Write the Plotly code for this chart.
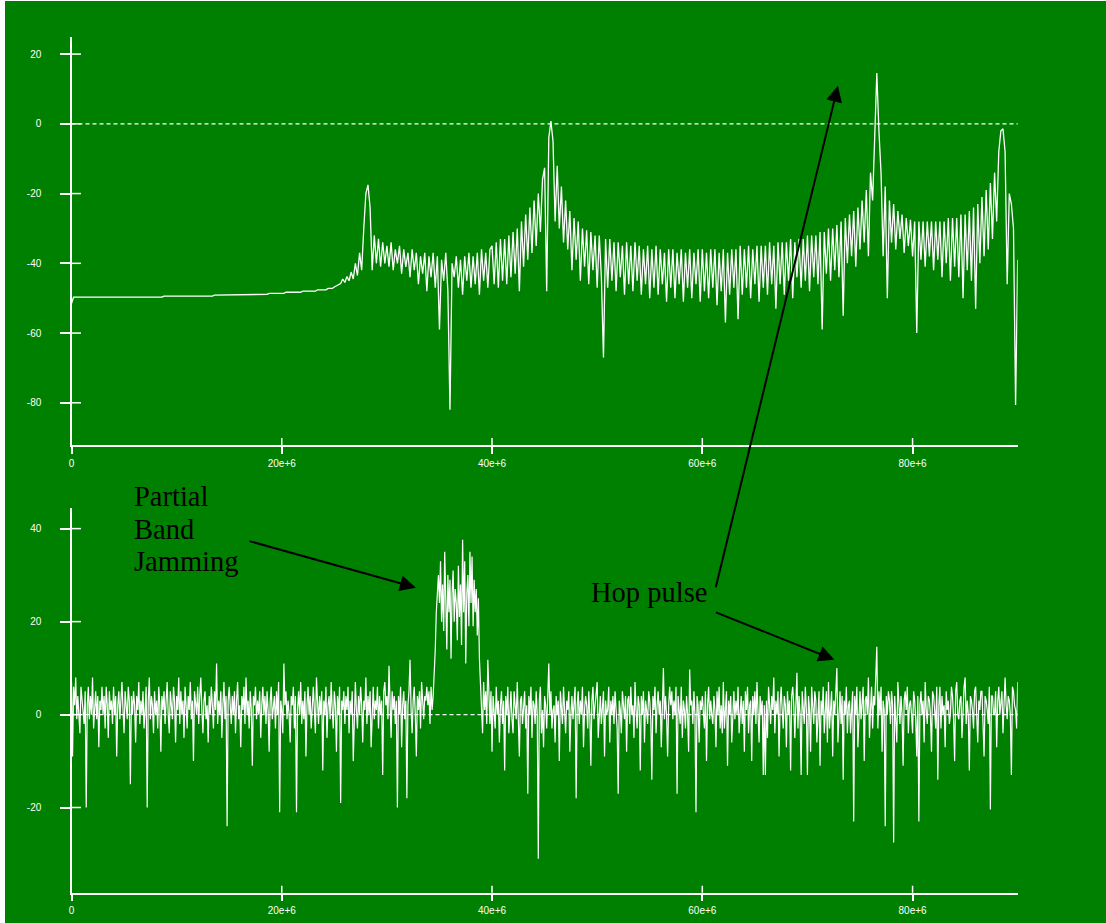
import plotly.graph_objects as go

# ---------------- data ----------------
TOP_STEP_HZ = 0.2e6     # spacing between samples, upper spectrum
BOTTOM_STEP_HZ = 0.1e6  # spacing between samples, lower spectrum

# upper panel: spectrum of the hopping signal (dB)
top_db = [
    -51.5, -49.7, -49.7, -49.7, -49.7, -49.7, -49.7, -49.7, -49.7, -49.7,
    -49.7, -49.7, -49.7, -49.7, -49.7, -49.7, -49.7, -49.7, -49.7, -49.7,
    -49.7, -49.7, -49.7, -49.7, -49.7, -49.7, -49.7, -49.7, -49.7, -49.7,
    -49.7, -49.7, -49.7, -49.7, -49.7, -49.7, -49.7, -49.7, -49.7, -49.7,
    -49.7, -49.7, -49.7, -49.7, -49.4, -49.4, -49.4, -49.4, -49.4, -49.4,
    -49.4, -49.4, -49.4, -49.4, -49.4, -49.4, -49.4, -49.4, -49.4, -49.4,
    -49.4, -49.4, -49.4, -49.4, -49.4, -49.4, -49.4, -49.4, -49.1, -49.1,
    -49.1, -49.1, -49.1, -49.1, -49.1, -49.1, -49.1, -49.1, -49.1, -49.1,
    -49.1, -49.1, -49.1, -48.9, -48.9, -48.9, -48.9, -48.9, -48.9, -48.9,
    -48.9, -48.9, -48.9, -48.9, -48.6, -48.6, -48.6, -48.6, -48.6, -48.6,
    -48.6, -48.6, -48.3, -48.3, -48.3, -48.3, -48.3, -48.3, -48.3, -48.3,
    -48.0, -48.0, -48.0, -48.0, -48.0, -48.0, -48.0, -47.6, -47.6, -47.6,
    -47.6, -47.6, -47.2, -47.2, -47.2, -46.8, -46.5, -46.0, -45.8, -44.5,
    -45.5, -43.8, -45.0, -42.5, -44.5, -40.0, -43.5, -37.0, -42.0, -30.0,
    -20.0, -17.5, -24.0, -42.0, -32.0, -40.0, -33.0, -41.0, -34.0, -40.0,
    -35, -41, -34, -42, -36, -40, -35, -43, -36, -41,
    -37, -44, -36, -42, -37, -46, -38, -43, -37, -48,
    -38, -44, -37, -47, -38, -59, -39, -45, -37, -48,
    -82, -40, -44, -38, -47, -39, -49, -38, -45, -37,
    -47, -38, -46, -37, -49, -36, -45, -37, -47, -36,
    -35, -46, -34, -47, -33, -45, -33, -46, -32, -44,
    -31, -43, -30, -48, -28, -41, -26, -39, -24, -37,
    -22, -35, -20, -31, -16, -12.6, -48, -4, 0.8, -5,
    -28, -12, -30, -18, -34, -22, -36, -25, -42, -27,
    -39, -28, -45, -30, -41, -30.5, -46, -31, -42, -32,
    -47, -32, -44, -67, -33, -47, -33, -45, -34, -48,
    -34, -44, -35, -49, -34, -46, -35, -48, -34, -45,
    -35, -49, -36, -46, -35, -50, -36, -47, -35, -49,
    -36, -46, -37, -51, -36, -47, -36, -50, -37, -46,
    -36, -51, -37, -47, -36, -50, -37, -46, -36, -51,
    -36, -48, -37, -50, -36, -47, -36, -52, -37, -48,
    -36, -57, -37, -49, -36, -47, -36, -56, -35, -49,
    -36, -47, -35, -50, -36, -46, -35, -51, -35, -47,
    -35, -49, -34, -46, -35, -53, -34, -46, -34, -49,
    -34, -45, -33, -50, -34, -44, -33, -47, -33, -45,
    -32, -48, -32, -44, -32, -46, -31, -59, -31, -43,
    -30, -45, -30, -42, -29, -44, -28, -55, -27, -40,
    -26, -38, -25, -41, -24, -36, -22, -34, -19, -38,
    -14, -22, -5, 14.6, -2, -14, -38, -18, -50, -22,
    -34, -23, -36, -25, -33, -26, -37, -27, -35, -27.5,
    -38, -28, -60, -28, -39, -28, -41, -28, -38, -28,
    -42, -28, -39, -28, -44, -28, -40, -27, -45, -27,
    -41, -27, -44, -26, -50, -26, -42, -25, -45, -24,
    -53, -23, -40, -21, -38, -19, -36, -17, -33, -14,
    -28, -8, -2, -1.4, -8, -46, -20, -23, -30, -80.6,
    -39,
]

# lower panel: received spectrum with partial band jamming (dB), one row per 1 MHz
bottom_db = [
    7, -9, 6, 2, 8, -1, 4, 0, -4, 6,
    3, 1, -2, 5, -20, 2, 6, -1, 4, 0,
    8, -3, 2, 5, -1, 4, -7, 3, 1, 6,
    0, 4, -3, 6, 2, -5, 5, 1, 3, -2,
    6, 0, 4, -9, 2, 5, -1, 3, 7, 1,
    -4, 5, 2, -1, 6, 3, -15, 4, 0, 5,
    2, -6, 4, 1, 7, -2, 3, 0, 5, -3,
    1, 6, -20, 3, 8, -1, 4, 2, -4, 5,
    0, 3, -3, 6, 2, -8, 4, 1, 5, -2,
    3, 7, 0, -4, 5, 2, -1, 6, 3, -6,
    4, 1, 8, -2, 5, 0, 3, -5, 6, 2,
    -3, 4, 1, 7, -1, 3, -10, 5, 2, 0,
    6, -2, 4, 8, 1, -4, 3, 5, -1, 2,
    -6, 4, 0, 6, 2, -3, 5, 1, 11, -2,
    3, 0, 5, -5, 2, 7, -1, 4, -24, 3,
    6, 1, -2, 4, 0, 5, -4, 3, 7, -1,
    2, -7, 4, 1, 6, -2, 8, 0, 3, -3,
    5, 1, -11, 4, 2, 6, -1, 3, 0, 5,
    -5, 2, 6, 0, 4, -2, 5, 1, -8, 3,
    6, -1, 2, 4, -3, 5, 0, 7, -21, 3,
    1, -4, 11, 2, 5, -1, 3, 0, -6, 4,
    2, 6, -3, 4, -21, 1, 5, 0, 7, -2,
    3, -1, 5, -9, 2, 6, 0, 4, -3, 2,
    6, 1, -4, 8, 2, -2, 4, 0, 5, -12,
    3, 0, 6, -5, 2, 4, -1, 7, 1, -3,
    5, 2, -8, 4, 0, 6, -19, 3, 1, 5,
    -2, 4, 1, 6, -4, 3, 0, 5, -10, 2,
    7, 1, -3, 4, 0, 6, 2, -6, 3, 1,
    8, -2, 4, 0, 5, -7, 2, 6, -1, 3,
    1, 6, -3, 4, 0, 3, -13, 5, 7, 2,
    4, -1, 10.5, 2, -5, 5, 1, 4, -2, 3,
    -20, 4, 0, 6, -7, 2, 5, -1, 3, -18,
    2, 5, 11.8, 1, -4, 3, 6, 0, -9, 4,
    1, 5, -3, 7, 2, -1, 4, 3, 6, 2,
    5, -2, 6, 1, 4, 8, 14, 22, 26, 30,
    24, 33, 20, 28, 18, 35, 25, 14, 30, 22,
    29, 12, 26, 31, 20, 27, 24, 16, 32, 21,
    28, 15, 37.6, 22, 33, 11, 26, 30, 19, 35,
    24, 34, 19, 29, 22, 27, 17, 25, 12, 6,
    3, -4, 7, 1, 5, -2, 11.8, 3, -2, 5,
    -8, 4, 1, -3, 6, 0, 3, -6, 2, 5,
    -2, 3, -12, 4, 0, 6, -4, 1, 5, -1,
    -4, 5, 2, -1, 7, 0, -9, 3, 4, -2,
    1, 5, -3, 2, -17, 4, 0, 6, -5, 3,
    2, -2, 5, 0, -31, 3, 6, -4, 1, -7,
    4, 2, -3, 6, 11, 0, 5, -3, 1, 2,
    -6, 4, 0, 3, -10, 5, 1, -2, 6, 2,
    -4, 3, 1, 5, -8, 0, 4, -1, 3, 6,
    -18, 2, 5, -2, 3, 0, 6, -7, 1, 4,
    2, -3, 5, 0, -11, 3, 6, -1, 2, 4,
    7, -5, 2, 4, -2, 1, 5, -9, 3, 0,
    1, 6, -6, 3, 0, 4, -2, 5, 1, -3,
    -17, 3, 1, -4, 5, 2, -1, 4, -8, 3,
    4, -2, 6, 0, 2, -5, 7, 1, -3, 4,
    2, -12, 4, 0, 5, -6, 3, 1, -2, 5,
    3, -1, -14, 4, 1, 6, -4, 2, 5, 0,
    3, -7, 5, 10, -1, 4, 0, -9, 2, 6,
    2, 5, -1, 3, 0, 6, -17, 4, 1, -2,
    6, -5, 3, 1, -3, 4, 0, -8, 9.7, 2,
    3, -2, 5, 0, -21, 4, 2, -6, 3, 1,
    4, 0, -3, 5, -10, 2, 6, -1, 3, 0,
    -2, 4, 1, -7, 5, 0, 6, -3, 2, -4,
    7, -3, 1, 5, -11, 3, 0, 4, -6, 2,
    5, -1, 3, 0, 6, -4, 2, 4, -2, 3,
    -8, 5, 1, 6, -4, 2, 3, -10, 4, 0,
    5, -2, 7, 1, -6, 4, 0, 3, -13, 2,
    -13, 3, -5, 6, 0, -2, 4, 1, 8, -4,
    3, 0, 5, -9, 2, 6, 1, -3, 4, 2,
    -7, 5, 0, 3, -12, 4, 6, 2, -5, 1,
    9, -3, 4, 0, -13, 5, 2, -2, 6, 1,
    -13, 4, 1, -8, 6, 0, -2, 5, 3, -6,
    2, 5, -11, 3, 0, 6, -4, 2, 5, -6,
    7, -3, 2, 5, -9, 3, 0, 4, 10, -6,
    1, 5, -2, 4, -14, 3, 0, 6, -4, 2,
    3, -4, 1, 5, -23, 4, 0, 6, -7, 2,
    5, -1, 2, 6, -10, 3, 4, 0, 8, -5,
    1, 6, -3, 4, 2, 7, 14.6, -3, 5, 0,
    6, -8, 3, 1, -24, 4, 0, 5, 3, -2,
    5, 2, -27.5, 4, 0, -6, 7, 1, -2, 4,
    0, -11, 3, 5, 1, 6, -4, 2, 3, 0,
    -4, 5, 3, -1, -9, 4, -23, 2, 5, 0,
    3, -6, 7, 1, -2, 4, 3, 0, -8, 5,
    4, 1, -3, 6, -14, 2, 6, -3, 4, 0,
    2, -7, 5, 1, 3, -2, 0, 6, 4, -1,
    -10, 5, 7, 0, -1, 3, 4, -5, 2, 6,
    8, -2, 3, 0, -12, 4, 3, 1, -3, 5,
    6, 0, -6, 3, 1, 5, 5, -2, -9, 4,
    3, 1, -2, 6, -20.4, 4, 4, 0, 0, 5,
    -7, 3, 6, 0, 2, 5, -4, 1, 8, 2,
    -1, 4, 3, 0, -13, 6, 5, 2, 1, -3,
    7,
]

top_freq = [i * TOP_STEP_HZ for i in range(len(top_db))]
bottom_freq = [i * BOTTOM_STEP_HZ for i in range(len(bottom_db))]

x_tickvals = [0, 20e6, 40e6, 60e6, 80e6]
x_ticktext = ["0", "20e+6", "40e+6", "60e+6", "80e+6"]
top_y_ticks = [-80, -60, -40, -20, 0, 20]
bottom_y_ticks = [-20, 0, 20, 40]

# ---------------- style ----------------
W, H = 1106, 923
GREEN = "#008000"
WHITE = "#ffffff"
TICK_FONT = dict(family="Liberation Sans, Arial, sans-serif", size=10, color=WHITE)
ANN_FONT = dict(family="Liberation Serif, Times New Roman, serif", size=28.5, color="black")

X_DOM = [71.5 / W, 1017.7 / W]
TOP_DOM = [1 - 445 / H, 1 - 37 / H]
BOT_DOM = [1 - 892.7 / H, 1 - 507.7 / H]

fig = go.Figure()
fig.add_trace(go.Scatter(x=top_freq, y=top_db, mode="lines",
                         line=dict(color=WHITE, width=1.3), xaxis="x", yaxis="y",
                         showlegend=False, hoverinfo="skip"))
fig.add_trace(go.Scatter(x=bottom_freq, y=bottom_db, mode="lines",
                         line=dict(color=WHITE, width=1.2), xaxis="x2", yaxis="y2",
                         showlegend=False, hoverinfo="skip"))

xcommon = dict(range=[0, 90e6], tickmode="array", tickvals=x_tickvals, ticktext=x_ticktext,
               showgrid=False, zeroline=False, showline=True, linecolor=WHITE, linewidth=1.5,
               ticks="outside", ticklen=7, tickwidth=1.5, tickcolor=WHITE,
               tickfont=TICK_FONT, ticklabelstandoff=1, automargin=False, domain=X_DOM)
ycommon = dict(showgrid=False, zeroline=False, showline=True, linecolor=WHITE, linewidth=1.5,
               ticks="outside", ticklen=9.5, tickwidth=1.5, tickcolor=WHITE, tickmode="array",
               tickfont=TICK_FONT, ticklabelstandoff=17, automargin=False)

fig.update_layout(
    width=W, height=H,
    margin=dict(l=0, r=0, t=0, b=0),
    paper_bgcolor=GREEN, plot_bgcolor=GREEN,
    template="none",
    xaxis=dict(anchor="y", **xcommon),
    yaxis=dict(anchor="x", domain=TOP_DOM, range=[-92.1, 24.9], tickvals=top_y_ticks,
               ticktext=[str(v) for v in top_y_ticks], **ycommon),
    xaxis2=dict(anchor="y2", **xcommon),
    yaxis2=dict(anchor="x2", domain=BOT_DOM, range=[-38.3, 44.5], tickvals=bottom_y_ticks,
                ticktext=[str(v) for v in bottom_y_ticks], **ycommon),
)

shapes = []
# white frame strip at left / top of the picture
shapes.append(dict(type="rect", xref="paper", yref="paper", x0=0, x1=5 / W, y0=0, y1=1,
                   fillcolor=WHITE, line=dict(width=0), layer="below"))
shapes.append(dict(type="rect", xref="paper", yref="paper", x0=0, x1=1, y0=1 - 1 / H, y1=1,
                   fillcolor=WHITE, line=dict(width=0), layer="below"))
# dashed zero reference lines
for xa, ya in (("x", "y"), ("x2", "y2")):
    shapes.append(dict(type="line", xref=f"{xa} domain", yref=ya, x0=0, x1=1, y0=0, y1=0,
                       line=dict(color=WHITE, width=1.2, dash="4px,3px"), layer="below"))
# inner halves of the tick marks (ticks cross the axis lines)
for ya, ticks in (("y", top_y_ticks), ("y2", bottom_y_ticks)):
    xa = "x" if ya == "y" else "x2"
    for v in ticks:
        shapes.append(dict(type="line", xref=f"{xa} domain", yref=ya, x0=0, x1=9.5 / 946,
                           y0=v, y1=v, line=dict(color=WHITE, width=1.5)))
for xa, ya, hpx in (("x", "y", 408), ("x2", "y2", 385)):
    for v in x_tickvals[1:]:
        shapes.append(dict(type="line", xref=xa, yref=f"{ya} domain", x0=v, x1=v,
                           y0=0, y1=7 / hpx, line=dict(color=WHITE, width=1.5)))
fig.update_layout(shapes=shapes)

# ---------------- annotations ----------------
anns = []
for txt, base in (("Partial", 506), ("Band", 539), ("Jamming", 571)):
    anns.append(dict(text=txt, xref="paper", yref="paper", x=131.5 / W, y=1 - (base - 9.6) / H,
                     xanchor="left", yanchor="middle", showarrow=False, font=ANN_FONT))
anns.append(dict(text="Hop pulse", xref="paper", yref="paper", x=588.5 / W, y=1 - (601.7 - 9.6) / H,
                 xanchor="left", yanchor="middle", showarrow=False, font=ANN_FONT))

arrow_style = dict(showarrow=True, arrowhead=2, arrowsize=1.6, arrowwidth=2,
                   arrowcolor="black", text="", axref="pixel", ayref="pixel", standoff=0)
# jamming arrow
anns.append(dict(x=32.76e6, y=27.3, xref="x2", yref="y2", ax=-168, ay=-47, **arrow_style))
# hop pulse -> top spectrum peak
anns.append(dict(x=72.9e6, y=10.9, xref="x", yref="y", ax=-122.5, ay=503, **arrow_style))
# hop pulse -> bottom spectrum
anns.append(dict(x=72.57e6, y=11.8, xref="x2", yref="y2", ax=-120, ay=-48, **arrow_style))
fig.update_layout(annotations=anns)

fig.write_html("out.html", config={"displayModeBar": False},
               post_script="document.body.style.margin='0';")
